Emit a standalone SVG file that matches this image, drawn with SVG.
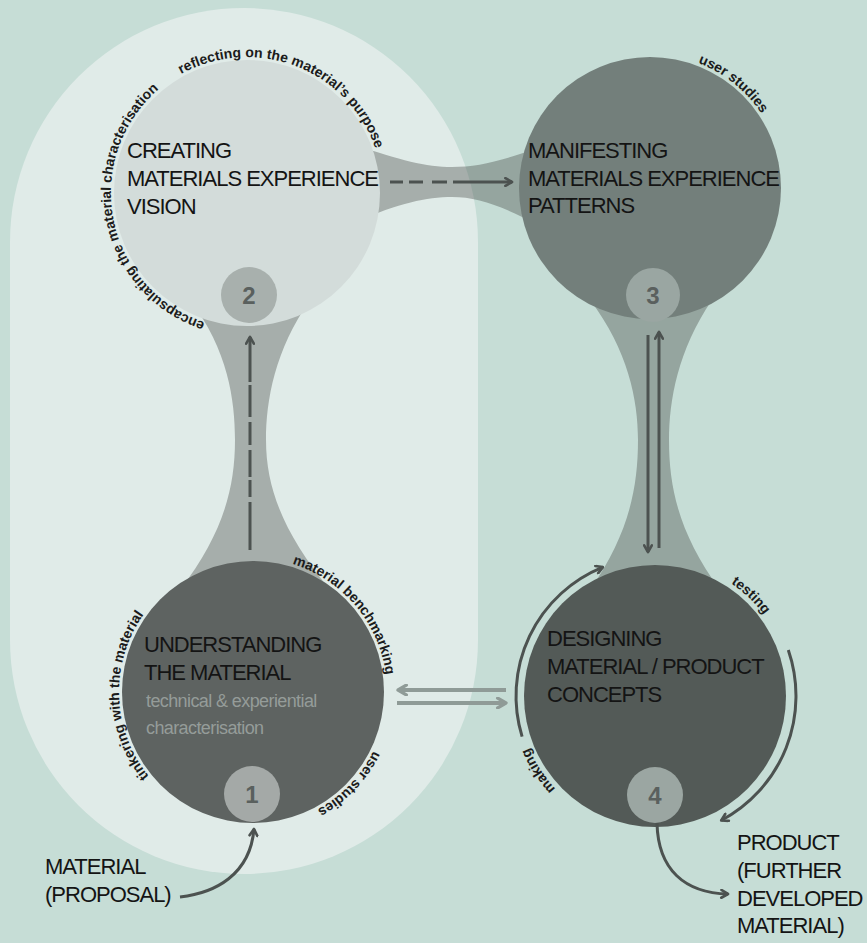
<svg xmlns="http://www.w3.org/2000/svg" width="867" height="943" viewBox="0 0 867 943">
  <style>
    .head { font-family: "Liberation Sans", Arial, sans-serif; font-size: 22px; letter-spacing: -1px; fill: #141414; }
    .sub { font-family: "Liberation Sans", Arial, sans-serif; font-size: 18px; letter-spacing: -0.6px; fill: #959c99; }
    .arc { font-family: "Liberation Sans", Arial, sans-serif; font-size: 14px; font-weight: bold; letter-spacing: 0px; fill: #1b1b1b; }
    .num { font-family: "Liberation Sans", Arial, sans-serif; font-size: 24px; font-weight: bold; fill: #5a605e; text-anchor: middle; }
    .neck { fill: rgb(58,60,56); fill-opacity: 0.35; }
    .dark { fill: none; stroke: #4c5250; stroke-width: 3; }
    .light { fill: none; stroke: #8f9b97; stroke-width: 4; }
  </style>
  <defs>
    <marker id="chev" viewBox="0 0 10 10" refX="8.5" refY="5" markerWidth="3.4" markerHeight="3.4" orient="auto" markerUnits="strokeWidth">
      <path d="M2,1.2 L8.5,5 L2,8.8" fill="none" stroke="#4c5250" stroke-width="2.6" stroke-linecap="round" stroke-linejoin="round"/>
    </marker>
    <marker id="chevLight" viewBox="0 0 10 10" refX="8.5" refY="5" markerWidth="3.2" markerHeight="3.2" orient="auto" markerUnits="strokeWidth">
      <path d="M2,1.2 L8.5,5 L2,8.8" fill="none" stroke="#8f9b97" stroke-width="2.6" stroke-linecap="round" stroke-linejoin="round"/>
    </marker>
    <!-- baselines for the curved labels (clockwise arcs) -->
    <path id="p2enc" d="M205,322.3 A136,136 0 1 1 315,75.2"/>
    <path id="p2ref" d="M181.1,74.1 A136,136 0 0 1 374.8,239.5"/>
    <path id="p3usr" d="M698,62.9 A134,134 0 0 1 775.9,233.8"/>
    <path id="p1tin" d="M148.9,776.3 A134,134 0 0 1 229.7,560"/>
    <path id="p1ben" d="M292.2,563.9 A134,134 0 0 1 369,759"/>
    <path id="p1usr" d="M373.4,750.7 A134,134 0 0 1 229.7,824"/>
    <path id="p4tst" d="M731,583.3 A136,136 0 0 1 788.9,672.4"/>
    <path id="p4mak" d="M555.5,788.8 A136,136 0 0 1 523.6,731.2"/>
  </defs>

  <!-- background and the rounded panel grouping phases 1 and 2 -->
  <rect x="0" y="0" width="867" height="943" fill="#c6ddd6"/>
  <rect x="10" y="8" width="468" height="866" rx="234" ry="234" fill="#e0ebe8"/>

  <!-- bridges between the phase circles -->
  <g id="bridges">
    <path class="neck" d="M190,300 C228,350 235,400 235,440 C235,490 222,535 180,590 L330,590 C285,535 266,490 266,440 C266,400 275,350 310,300 Z"/>
    <path class="neck" d="M590,300 C628,350 638,400 638,440 C638,490 628,535 590,590 L720,590 C680,535 669,490 669,440 C669,400 678,350 712,300 Z"/>
    <path class="neck" d="M355,145 C400,160 426,167 452,167 C478,167 502,161 540,147 L540,226 C502,206 478,197 452,197 C426,197 400,203 355,222 Z"/>
  </g>

  <g id="phase2">
    <circle cx="247" cy="193" r="133" fill="#d3dcda"/>
    <circle cx="249" cy="295" r="28" fill="#a8b0ad"/>
    <text class="num" x="249" y="303.5">2</text>
    <text class="head" x="127" y="158">CREATING</text>
    <text class="head" x="127" y="186">MATERIALS EXPERIENCE</text>
    <text class="head" x="127" y="214">VISION</text>
    <text class="arc"><textPath href="#p2enc">encapsulating the material characterisation</textPath></text>
    <text class="arc"><textPath href="#p2ref">reflecting on the material’s purpose</textPath></text>
  </g>

  <g id="phase3">
    <circle cx="650" cy="188" r="131" fill="#737f7b"/>
    <circle cx="653" cy="295" r="27" fill="#9aa6a2"/>
    <text class="num" x="653" y="303.5">3</text>
    <text class="head" x="528" y="158">MANIFESTING</text>
    <text class="head" x="528" y="186">MATERIALS EXPERIENCE</text>
    <text class="head" x="528" y="213">PATTERNS</text>
    <text class="arc"><textPath href="#p3usr">user studies</textPath></text>
  </g>

  <g id="phase1">
    <circle cx="253" cy="692" r="131" fill="#5e6361"/>
    <circle cx="252" cy="794" r="28" fill="#a4a9a7"/>
    <text class="num" x="252" y="802.5">1</text>
    <text class="head" x="144" y="652">UNDERSTANDING</text>
    <text class="head" x="144" y="680">THE MATERIAL</text>
    <text class="sub" x="146" y="707">technical &amp; experiential</text>
    <text class="sub" x="146" y="734">characterisation</text>
    <text class="arc"><textPath href="#p1tin">tinkering with the material</textPath></text>
    <text class="arc"><textPath href="#p1ben">material benchmarking</textPath></text>
    <text class="arc"><textPath href="#p1usr">user studies</textPath></text>
  </g>

  <g id="phase4">
    <circle cx="655" cy="696" r="131" fill="#535a57"/>
    <circle cx="655" cy="795" r="28" fill="#9ba6a2"/>
    <text class="num" x="655" y="803.5">4</text>
    <text class="head" x="547" y="646">DESIGNING</text>
    <text class="head" x="547" y="674">MATERIAL / PRODUCT</text>
    <text class="head" x="547" y="702">CONCEPTS</text>
    <text class="arc"><textPath href="#p4tst">testing</textPath></text>
    <text class="arc"><textPath href="#p4mak">making</textPath></text>
  </g>

  <g id="input">
    <text class="head" x="45" y="874">MATERIAL</text>
    <text class="head" x="45" y="902">(PROPOSAL)</text>
  </g>

  <g id="output">
    <text class="head" x="737" y="850">PRODUCT</text>
    <text class="head" x="737" y="878">(FURTHER</text>
    <text class="head" x="737" y="906">DEVELOPED</text>
    <text class="head" x="737" y="933">MATERIAL)</text>
  </g>

  <g id="connectors">
    <!-- 1 to 2, dashed -->
    <path class="dark" d="M250,550 L250,337" stroke-dasharray="48 5 17 3 27 5 23 5 32 3 60" marker-end="url(#chev)"/>
    <!-- 2 to 3, dashed -->
    <path class="dark" d="M390,182 L512,182" stroke-dasharray="13 6 14 9 15 6 80" marker-end="url(#chev)"/>
    <!-- 3 and 4, both ways -->
    <path class="dark" d="M648,335 L648,552" stroke-width="3.3" marker-end="url(#chev)"/>
    <path class="dark" d="M659,548 L659,332" stroke-width="3.3" marker-end="url(#chev)"/>
    <!-- 4 and 1, both ways -->
    <path class="light" d="M506,690 L398,690" marker-end="url(#chevLight)"/>
    <path class="light" d="M397,703 L506,703" marker-end="url(#chevLight)"/>
    <!-- making / testing loop around 4 -->
    <path class="dark" d="M522.1,736.6 A139,139 0 0 1 602.9,567.1" marker-end="url(#chev)"/>
    <path class="dark" d="M788.3,650.1 A141,141 0 0 1 721.2,820.5" marker-end="url(#chev)"/>
    <!-- material in, product out -->
    <path class="dark" d="M180,897 C215,893 250,875 254,829" stroke-width="4.2" marker-end="url(#chev)"/>
    <path class="dark" d="M657,823 C658,870 685,893 728,894" stroke-width="4.2" marker-end="url(#chev)"/>
  </g>
</svg>
